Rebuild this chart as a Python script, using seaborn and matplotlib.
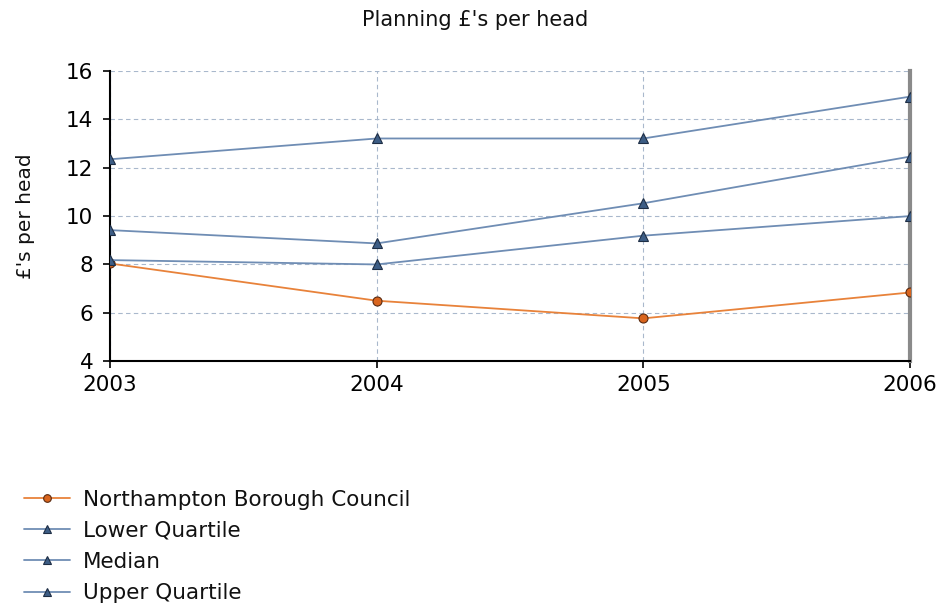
import matplotlib
matplotlib.use("Agg")
import matplotlib.pyplot as plt
import seaborn as sns
import pandas as pd

years = [2003, 2004, 2005, 2006]
nbc = [8.04, 6.5, 5.77, 6.84]
lower_q = [8.18, 8.0, 9.19, 10.0]
median = [9.42, 8.87, 10.53, 12.46]
upper_q = [12.35, 13.21, 13.21, 14.94]
series_names = ["Northampton Borough Council", "Lower Quartile", "Median", "Upper Quartile"]

sns.set_theme(style="white")
plt.rcParams['font.family'] = ['DejaVu Sans']
plt.rcParams['text.color'] = '#111111'

rows = []
for name, vals in zip(series_names, [nbc, lower_q, median, upper_q]):
    for y, v in zip(years, vals):
        rows.append({"Year": y, "Value": v, "Series": name})
df = pd.DataFrame(rows)

fig = plt.figure(figsize=(9.41, 6.07), dpi=100)
ax = fig.add_axes([0.117, 0.405, 0.850, 0.478])

styles = {
    "Northampton Borough Council": dict(color="#E8823A", marker="o", mfc="#D9651E", mec="#5A2A10", ms=6.5),
    "Lower Quartile": dict(color="#6F8DB4", marker="^", mfc="#3D5D85", mec="#1E2E45", ms=6.5),
    "Median": dict(color="#6F8DB4", marker="^", mfc="#3D5D85", mec="#1E2E45", ms=6.5),
    "Upper Quartile": dict(color="#6F8DB4", marker="^", mfc="#3D5D85", mec="#1E2E45", ms=6.5),
}
handles = []
for name in series_names:
    st = styles[name]
    sub = df[df["Series"] == name]
    sns.lineplot(data=sub, x="Year", y="Value", ax=ax, color=st["color"], linewidth=1.3,
                 marker=st["marker"], markersize=st["ms"], markerfacecolor=st["mfc"],
                 markeredgecolor=st["mec"], markeredgewidth=0.8, label=name, legend=False, zorder=3)
    handles.append(plt.Line2D([], [], color=st["color"], lw=1.3, marker=st["marker"],
                              markersize=st["ms"] - 1, markerfacecolor=st["mfc"],
                              markeredgecolor=st["mec"], markeredgewidth=0.8))

ax.set_xlim(2003, 2006)
ax.set_ylim(4, 16)
ax.set_xticks(years)
ax.set_xticklabels([str(y) for y in years])
ax.set_yticks([4, 6, 8, 10, 12, 14, 16])
ax.grid(True, linestyle=(0, (4, 3)), color="#A9B8CC", linewidth=0.8)
ax.set_axisbelow(True)
for s in ["left", "bottom"]:
    ax.spines[s].set_color("black")
    ax.spines[s].set_linewidth(1.5)
ax.spines["top"].set_visible(False)
ax.spines["right"].set_color("#8A8A8A")
ax.spines["right"].set_linewidth(3)
ax.tick_params(axis="both", which="both", direction="out", length=5, width=1.2,
               colors="black", labelsize=15.5, left=True, bottom=True, pad=3)
ax.tick_params(axis="x", pad=5)
ax.tick_params(axis="y", pad=7)
ax.set_xlabel("")
ax.set_ylabel("£'s per head", fontsize=14.5, labelpad=22, color="#111111")
fig.text(0.505, 0.967, "Planning £'s per head", ha="center", va="center", fontsize=15)

fig.legend(handles, series_names, loc="center left", bbox_to_anchor=(0.026, 0.100),
           frameon=False, fontsize=15.5, handlelength=2.1, labelspacing=0.52, handletextpad=0.6,
           borderaxespad=0, borderpad=0)

fig.savefig("out.png", dpi=100)
